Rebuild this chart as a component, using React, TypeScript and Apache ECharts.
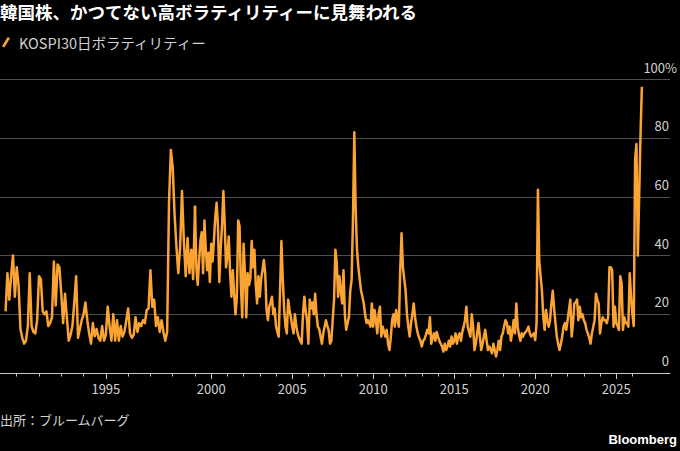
import React, { useEffect, useRef } from "react";
import * as echarts from "echarts";

// ---- Text ----
const titleText = "韓国株、かつてない高ボラティリティーに見舞われる";
const seriesName = "KOSPI30日ボラティリティー";
const sourceText = "出所：ブルームバーグ";
const brandText = "Bloomberg";

// ---- Axis ticks ----
const yTicks = [0, 20, 40, 60, 80, 100];
const earlyYearTicks = [1991, 1992, 1993, 1994, 1995, 1996, 1997, 1998];
const earlyLabelYears = [1995];
const lateYearTicks = [
  1999, 2000, 2001, 2002, 2003, 2004, 2005, 2006, 2007, 2008, 2009, 2010, 2011, 2012,
  2013, 2014, 2015, 2016, 2017, 2018, 2019, 2020, 2021, 2022, 2023, 2024, 2025, 2026,
];
const lateLabelYears = [2000, 2005, 2010, 2015, 2020, 2025];

// ---- Data: monthly KOSPI 30-day volatility (%), first value = July 1990 ----
const startYear = 1990;
const startMonth = 7;
const vol1990s = [
  21, 34, 25, 33, 40, 26, // 1990 Jul-Dec
  36, 30, 15, 12, 10, 11, 16, 34, 16, 14, 13.5, 18, // 1991
  33, 32, 21, 20, 21, 16, 17, 19, 38, 23, 37, 36, // 1992
  27, 17, 27, 19, 11, 13, 16, 24, 33, 12, 15, 18, // 1993
  20, 24, 18, 13.5, 10, 17, 12.5, 15, 12, 11, 16, 11, // 1994
  13, 22.6, 16, 11, 20, 11, 18, 11, 16, 12.4, 14, 18, // 1995
  22, 13.5, 12, 13, 19, 14, 17, 16, 18, 17, 21.5, 22, // 1996
  35, 22.6, 25, 16, 19, 14, 18, 14, 11, 14, 58, 76, // 1997
  70, 54, 43, 34, 43, 62, 45, 33, 46, 34, 42, 32, // 1998
  57, 36, 30, 38, 45, 48, 34, 52, 42, 35, 41, 31, // 1999
];
const vol2000s = [
  44, 38, 45, 53, 58, 50, 31, 42, 50, 62, 51, 36, // 2000
  40, 46.5, 34, 26, 35, 27, 20, 26, 52, 50, 30, 19, // 2001
  44, 34, 19, 34, 30, 32, 45, 36, 42, 30, 23.7, 33, // 2002
  26, 32, 35, 38.5, 34, 21.5, 18, 22.6, 24, 26, 20, 22, // 2003
  16, 14, 12.4, 28, 45, 32, 22, 16, 13.5, 25, 21.5, 19, // 2004
  16, 13.5, 20, 16, 13.5, 12, 11, 10, 20, 26, 21, 18, // 2005
  10, 25, 22, 24, 20, 27, 20, 15.8, 15, 12.4, 10, 13.5, // 2006
  15.8, 18, 16, 14.7, 10, 11, 18, 25, 42, 37.4, 26, 33, // 2007
  28, 23.7, 35, 20, 14.7, 17, 19, 28, 31.7, 52, 82, 56, // 2008
  42, 36, 32, 28, 26, 23.7, 20, 17, 18, 17, 15.8, 23.7, // 2009
];
const vol2010s = [
  15.8, 21.5, 18, 13.5, 20, 22.6, 12.4, 15.8, 14, 12.4, 14.7, 10, // 2010
  7.8, 12, 18, 20, 15.8, 21.5, 18, 15.8, 35, 47.6, 36, 32, // 2011
  28, 20, 15.8, 12.4, 17, 20, 23.7, 19, 15.8, 13.5, 12, 11, // 2012
  9, 11, 11.5, 13, 14.7, 13.5, 19, 10, 12, 13.5, 11, 14, // 2013
  12.4, 11, 10, 9, 7.3, 10, 7.8, 9, 11, 9, 12.4, 10, // 2014
  11, 13.5, 10, 12.4, 13.5, 11, 14, 15.8, 18, 22.6, 15.8, 14, // 2015
  12.4, 20, 15.8, 7.8, 10, 13.5, 17, 12.4, 7.8, 10, 12.4, 14.7, // 2016
  11, 7.8, 9, 8, 6.7, 10, 7.8, 5.6, 8, 11, 7.8, 12.4, // 2017
  13.5, 16, 18, 17, 13.5, 15.8, 11, 14, 18, 13.5, 23.7, 15.8, // 2018
  13, 11, 13.5, 12.4, 13.5, 14, 14.7, 15.8, 13.5, 12.4, 13, 13.5, // 2019
];
const vol2020s = [
  11.2, 17, 62.4, 38, 33, 28, 19, 14.7, 21.5, 18, 15.8, 18, // 2020
  23.7, 28, 22, 17, 12.4, 10, 7.8, 10, 12.4, 15.8, 17, 14.7, // 2021
  18, 21.5, 25, 12.4, 17, 23.7, 24, 25, 18, 22.6, 19, 20, // 2022
  18, 17, 14.7, 13.5, 12, 10, 13.5, 15.8, 18, 27, 25, 23.7, // 2023
  13.5, 17, 19, 18, 18, 17, 19, 36, 36, 35, 15.8, 22.6, // 2024
  17, 16, 14.7, 33, 30.6, 14.7, 19, 17, 17, 15.8, 34, 26, // 2025
  20, 16, 73, 78, 40, 60, 81, 97.5, // 2026 Jan-Aug
];

// Axis break year: the early part of the source chart is drawn on a wider scale
const breakYear = 1999;
const earlyMin = 1990.25;
const lateMax = 2028.32;

const ORANGE = "#fba434";
const TEXT = "#d2d2d2";
const AXIS = "#c8c8c8";
const GRIDLINE = "#4f4f4f";
const FONT = '"Noto Sans CJK JP", "Noto Sans", sans-serif';

function buildPoints() {
  const all = [...vol1990s, ...vol2000s, ...vol2010s, ...vol2020s];
  return all.map((v, i) => {
    const mIndex = startMonth - 1 + i;
    const year = startYear + Math.floor(mIndex / 12);
    const month = mIndex % 12;
    return [year + month / 12, v];
  });
}

export default function App() {
  const ref = useRef<HTMLDivElement>(null);

  useEffect(() => {
    if (!ref.current) return;
    const chart = echarts.init(ref.current, null, { renderer: "svg" });
    const pts = buildPoints();
    const early = pts.filter((p) => p[0] <= breakYear);
    const late = pts.filter((p) => p[0] >= breakYear);

    const gridTop = 79.5;
    const gridHeight = 293.5;

    const baseX = {
      type: "value",
      position: "bottom",
      offset: 0,
      splitLine: { show: false },
    };

    const yearLabel = {
      show: true,
      color: TEXT,
      fontSize: 13,
      fontFamily: FONT,
      margin: 9,
      formatter: (v: number) => String(Math.round(v)),
    };

    const option: any = {
      animation: false,
      backgroundColor: "#000",
      title: {
        text: titleText,
        left: 0,
        top: 3,
        padding: 0,
        textStyle: { color: "#fff", fontSize: 17.5, fontWeight: "bold", fontFamily: FONT },
      },
      legend: {
        left: 2,
        top: 35,
        padding: 0,
        icon: "path://M6,0 L8.5,1.2 L2.5,11 L0,9.8 Z",
        itemWidth: 8,
        itemHeight: 11,
        itemStyle: { color: ORANGE, borderWidth: 0 },
        lineStyle: { width: 0 },
        textStyle: { color: TEXT, fontSize: 14.5, fontFamily: FONT, padding: [0, 0, 0, 4] },
        data: [seriesName],
      },
      grid: [
        { left: 0, top: gridTop, width: 195, height: gridHeight, outerBoundsMode: "none" },
        { left: 195, top: gridTop, width: 475, height: gridHeight, outerBoundsMode: "none" },
      ],
      xAxis: [
        {
          ...baseX,
          gridIndex: 0,
          min: earlyMin,
          max: breakYear,
          axisLine: { show: true, lineStyle: { color: AXIS, width: 1 } },
          axisTick: { show: true, customValues: earlyYearTicks, length: 3.5, lineStyle: { color: AXIS } },
          axisLabel: { show: false },
        },
        {
          ...baseX,
          gridIndex: 0,
          min: earlyMin,
          max: breakYear,
          axisLine: { show: false },
          axisTick: { show: true, customValues: earlyLabelYears, length: 6, lineStyle: { color: AXIS } },
          axisLabel: { ...yearLabel, customValues: earlyLabelYears },
        },
        {
          ...baseX,
          gridIndex: 1,
          min: breakYear,
          max: lateMax,
          axisLine: { show: true, lineStyle: { color: AXIS, width: 1 } },
          axisTick: { show: true, customValues: lateYearTicks, length: 3.5, lineStyle: { color: AXIS } },
          axisLabel: { show: false },
        },
        {
          ...baseX,
          gridIndex: 1,
          min: breakYear,
          max: lateMax,
          axisLine: { show: false },
          axisTick: { show: true, customValues: lateLabelYears, length: 6, lineStyle: { color: AXIS } },
          axisLabel: { ...yearLabel, customValues: lateLabelYears },
        },
      ],
      yAxis: [
        {
          type: "value",
          gridIndex: 0,
          min: yTicks[0],
          max: yTicks[yTicks.length - 1],
          interval: 20,
          axisLine: { show: false },
          axisTick: { show: false },
          axisLabel: { show: false },
          splitLine: { show: true, lineStyle: { color: GRIDLINE, width: 1 } },
        },
        {
          type: "value",
          gridIndex: 1,
          position: "right",
          min: yTicks[0],
          max: yTicks[yTicks.length - 1],
          interval: 20,
          axisLine: { show: false },
          axisTick: { show: false },
          splitLine: { show: true, lineStyle: { color: GRIDLINE, width: 1 } },
          axisLabel: {
            show: true,
            inside: true,
            margin: -7,
            verticalAlign: "bottom",
            padding: [0, 0, 6, 0],
            color: TEXT,
            fontSize: 13,
            fontFamily: FONT,
            formatter: (v: number) => (v === 100 ? "{p|100%}" : "{n|" + v + "}"),
            rich: {
              n: { color: TEXT, fontSize: 13, fontFamily: FONT, padding: [0, 8, 0, 0] },
              p: { color: TEXT, fontSize: 13, fontFamily: FONT },
            },
          },
        },
      ],
      series: [
        {
          name: seriesName,
          type: "line",
          xAxisIndex: 0,
          yAxisIndex: 0,
          data: early,
          showSymbol: false,
          symbol: "none",
          lineStyle: { color: ORANGE, width: 2.5, join: "round" },
          itemStyle: { color: ORANGE },
        },
        {
          name: seriesName,
          type: "line",
          xAxisIndex: 2,
          yAxisIndex: 1,
          data: late,
          showSymbol: false,
          symbol: "none",
          lineStyle: { color: ORANGE, width: 2.5, join: "round" },
          itemStyle: { color: ORANGE },
        },
      ],
      graphic: [
        {
          type: "text",
          left: 0,
          top: 413,
          style: { text: sourceText, fill: TEXT, fontSize: 13, fontFamily: FONT },
        },
        {
          type: "text",
          right: 3,
          top: 433,
          style: {
            text: brandText,
            fill: "#fff",
            fontSize: 13,
            fontWeight: "bold",
            fontFamily: '"Liberation Sans", Arial, sans-serif',
          },
        },
      ],
    };

    chart.setOption(option);
    return () => chart.dispose();
  }, []);

  return (
    <div
      ref={ref}
      style={{ position: "fixed", left: 0, top: 0, width: 680, height: 451, background: "#000" }}
    />
  );
}
